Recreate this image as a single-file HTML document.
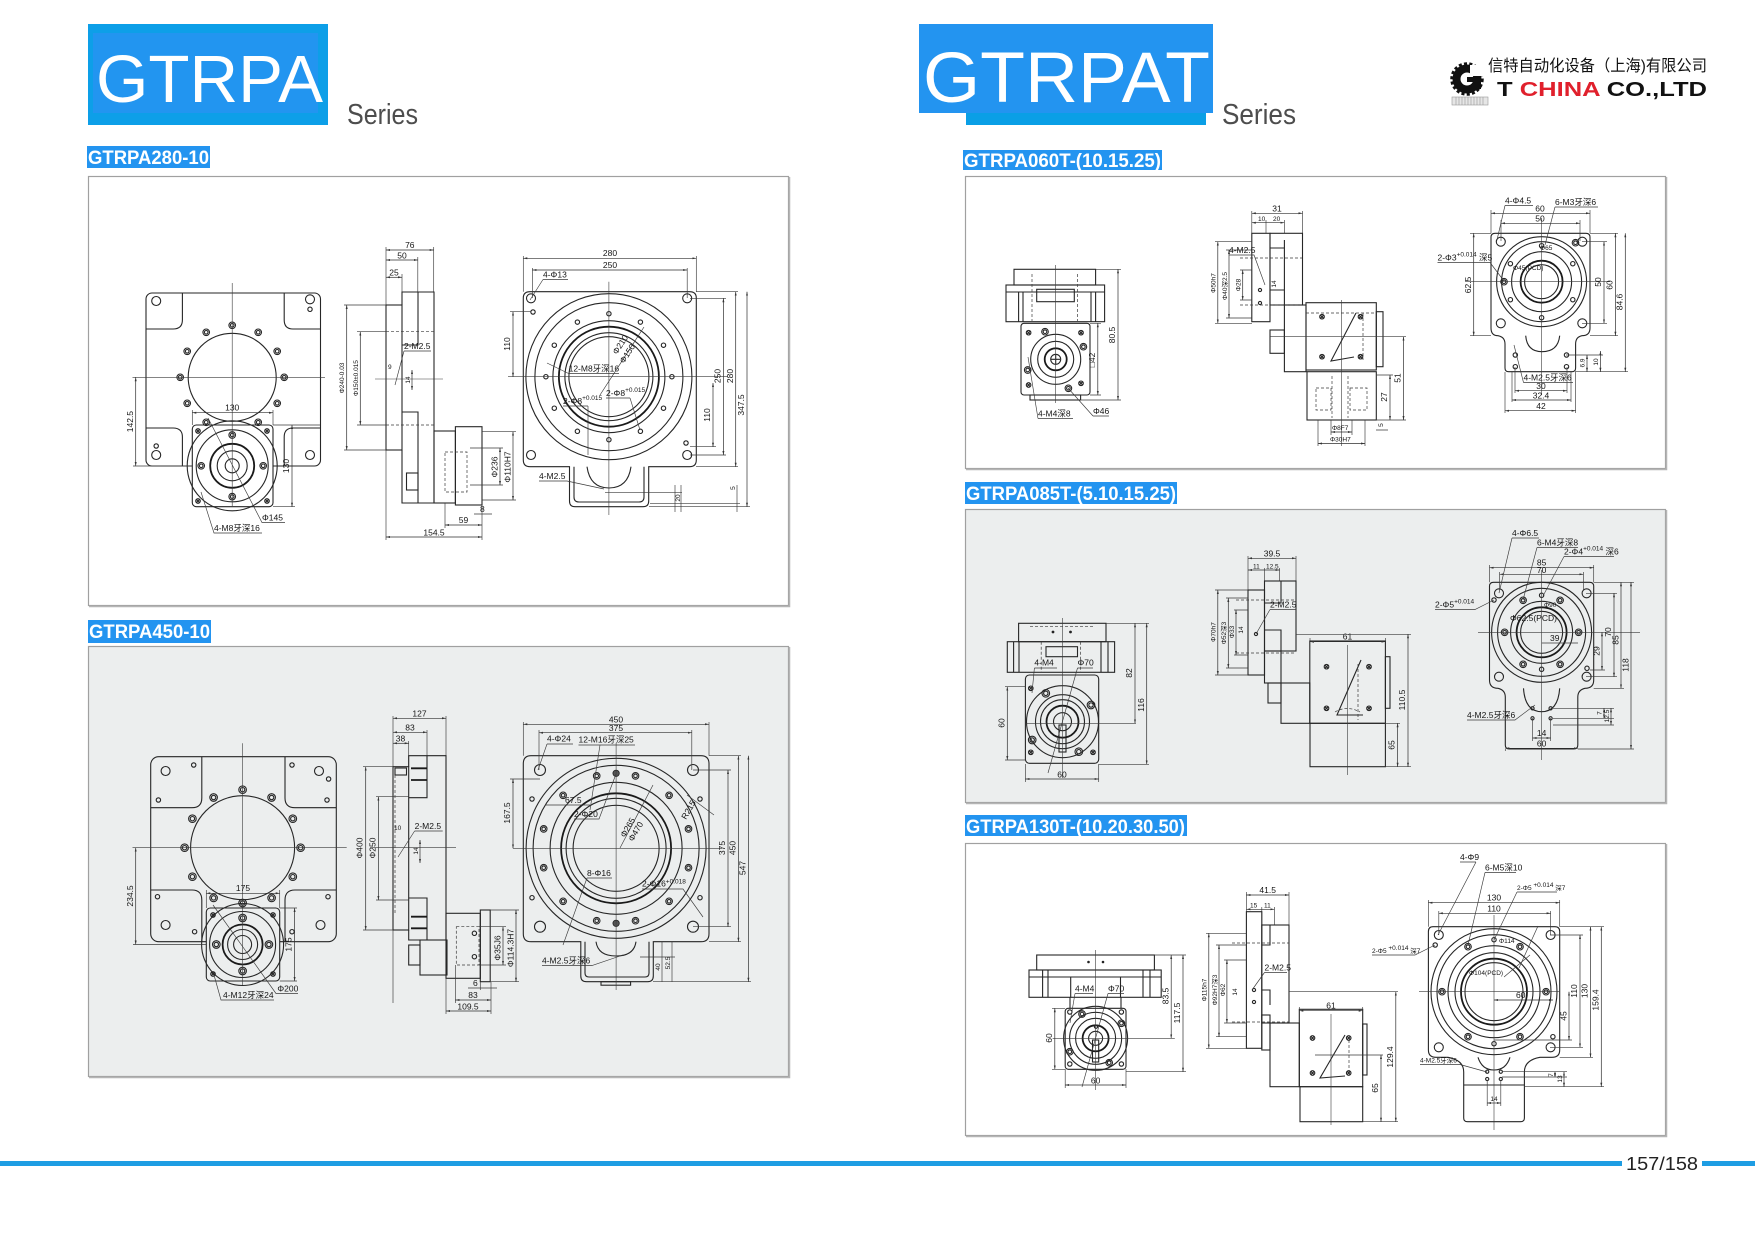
<!DOCTYPE html>
<html><head><meta charset="utf-8">
<style>
html,body{margin:0;padding:0;background:#fff;}
body{width:1755px;height:1240px;position:relative;overflow:hidden;}
svg{position:absolute;left:0;top:0;}
.k{fill:none;stroke:#262626;stroke-width:1.1}
.b{fill:none;stroke:#1a1a1a;stroke-width:1.8}
.c{fill:none;stroke:#3a3a3a;stroke-width:.6}
.d{fill:none;stroke:#3a3a3a;stroke-width:.7;stroke-dasharray:3 2}
.m{fill:none;stroke:#2e2e2e;stroke-width:.7;marker-start:url(#ar);marker-end:url(#ar)}
.e{fill:none;stroke:#3a3a3a;stroke-width:.65}
.t{font-family:"Liberation Sans","Noto Sans CJK SC",sans-serif;font-size:8.5px;fill:#151515}
.s{font-family:"Liberation Sans","Noto Sans CJK SC",sans-serif;font-size:6.5px;fill:#151515}
.lb{font-family:"Liberation Sans",sans-serif;font-weight:bold;font-size:19px;fill:#fff}
</style></head><body>
<svg width="1755" height="1240" viewBox="0 0 1755 1240">
<defs>
<marker id="ar" viewBox="0 0 10 10" refX="10" refY="5" markerWidth="4" markerHeight="4" orient="auto-start-reverse" markerUnits="userSpaceOnUse"><path d="M0,2.5L10,5L0,7.5z" fill="#333"/></marker>
<g id="ha" class="k"><circle r="3.3"/><circle r="1.8"/></g>
<g id="ha2" class="k"><circle r="3.8"/><circle r="2.2"/></g>
<g id="hb" class="k"><circle r="4.5"/></g>
<g id="hb2" class="k"><circle r="5.5"/></g>
<g id="hc" class="k"><circle r="2.2"/></g>
<g id="hs" class="k"><circle r="1.6"/></g>
<g id="hx" class="k"><circle r="2.3"/><path d="M-1.6,-1.6L1.6,1.6M-1.6,1.6L1.6,-1.6"/></g>
<g id="hd"><circle r="3.2" fill="#555" stroke="#222" stroke-width=".8"/></g>
</defs>

<!-- ===== HEADERS ===== -->
<rect x="88" y="24" width="240" height="101" fill="#0d9fe8"/>
<rect x="93" y="33" width="225" height="80" fill="#2295f0"/>
<text x="96" y="102" font-family="Liberation Sans,sans-serif" font-size="67" fill="#fff" textLength="227" lengthAdjust="spacingAndGlyphs">GTRPA</text>
<text x="347" y="124" font-family="Liberation Sans,sans-serif" font-size="29" fill="#4d4d4d" textLength="71" lengthAdjust="spacingAndGlyphs">Series</text>

<rect x="966" y="110" width="240" height="15" fill="#0a9fe6"/>
<rect x="919" y="24" width="294" height="89" fill="#2394f0"/>
<text x="923" y="102" font-family="Liberation Sans,sans-serif" font-size="71" fill="#fff" textLength="287" lengthAdjust="spacingAndGlyphs">GTRPAT</text>
<text x="1222" y="124" font-family="Liberation Sans,sans-serif" font-size="29" fill="#4d4d4d" textLength="74" lengthAdjust="spacingAndGlyphs">Series</text>

<!-- logo -->
<circle cx="1467" cy="79" r="15" fill="none" stroke="#111" stroke-width="3.5" stroke-dasharray="3 2.2"/>
<circle cx="1467" cy="79" r="10.5" fill="none" stroke="#111" stroke-width="8"/>
<rect x="1470" y="65" width="16" height="11" fill="#fff"/>
<rect x="1467" y="77" width="14" height="5" fill="#111"/>
<rect x="1476" y="77" width="5" height="12" fill="#111"/>
<rect x="1452" y="97" width="36" height="8" fill="#e6e6e6" stroke="#999" stroke-width=".6"/>
<path d="M1456,97V105M1459,97V105M1462,97V105M1465,97V105M1468,97V105M1471,97V105M1474,97V105M1477,97V105M1480,97V105M1483,97V105" stroke="#999" stroke-width=".6"/>
<text x="1488" y="71" font-family="Liberation Sans,'Noto Sans CJK SC',sans-serif" font-size="16" fill="#111" textLength="219" lengthAdjust="spacingAndGlyphs">信特自动化设备（上海)有限公司</text>
<text x="1497" y="96" font-family="Liberation Sans,sans-serif" font-weight="bold" font-size="20" fill="#111" textLength="210" lengthAdjust="spacingAndGlyphs">T <tspan fill="#e0202c">CHINA</tspan> CO.,LTD</text>

<!-- ===== PANELS ===== -->
<rect x="88.5" y="176.5" width="700" height="429" fill="#fff" stroke="#a0a0a0" stroke-width="1.2"/>
<path d="M789.5,177V606.5H89" fill="none" stroke="#b5b5b5" stroke-width="1.5"/>
<rect x="88.5" y="646.5" width="700" height="430" fill="#eceeee" stroke="#a0a0a0" stroke-width="1.2"/>
<path d="M789.5,647V1077.5H89" fill="none" stroke="#b5b5b5" stroke-width="1.5"/>
<rect x="965.5" y="176.5" width="700" height="292" fill="#fff" stroke="#a0a0a0" stroke-width="1.2"/>
<path d="M1666.5,177V469.5H966" fill="none" stroke="#b5b5b5" stroke-width="1.5"/>
<rect x="965.5" y="509.5" width="700" height="293" fill="#eceeee" stroke="#a0a0a0" stroke-width="1.2"/>
<path d="M1666.5,510V803.5H966" fill="none" stroke="#b5b5b5" stroke-width="1.5"/>
<rect x="965.5" y="843.5" width="700" height="292" fill="#fff" stroke="#a0a0a0" stroke-width="1.2"/>
<path d="M1666.5,844V1136.5H966" fill="none" stroke="#b5b5b5" stroke-width="1.5"/>

<!-- labels -->
<rect x="87" y="146" width="123" height="22" fill="#2394f0"/>
<text class="lb" x="88" y="164" textLength="121" lengthAdjust="spacingAndGlyphs">GTRPA280-10</text>
<rect x="88" y="620" width="123" height="23" fill="#2394f0"/>
<text class="lb" x="89" y="638" textLength="121" lengthAdjust="spacingAndGlyphs">GTRPA450-10</text>
<rect x="963" y="150" width="199" height="20" fill="#2394f0"/>
<text class="lb" x="964" y="167" textLength="197" lengthAdjust="spacingAndGlyphs">GTRPA060T-(10.15.25)</text>
<rect x="965" y="482" width="212" height="22" fill="#2394f0"/>
<text class="lb" x="966" y="500" textLength="210" lengthAdjust="spacingAndGlyphs">GTRPA085T-(5.10.15.25)</text>
<rect x="965" y="815" width="222" height="21" fill="#2394f0"/>
<text class="lb" x="966" y="833" textLength="219" lengthAdjust="spacingAndGlyphs">GTRPA130T-(10.20.30.50)</text>

<!-- footer -->
<rect x="0" y="1161" width="1622" height="5" fill="#1e9de3"/>
<rect x="1702" y="1161" width="53" height="5" fill="#1e9de3"/>
<text x="1626" y="1170" font-family="Liberation Sans,sans-serif" font-size="18" fill="#222" textLength="72" lengthAdjust="spacingAndGlyphs">157/158</text>

<!-- ================= PANEL 1 : GTRPA280-10 ================= -->
<g class="k">
<rect x="146" y="293" width="174.5" height="173" rx="6"/>
<path d="M182.4,293V320Q182.4,329 173,329H146M284.2,293V320Q284.2,329 293,329H320.5M146,428H173Q182.4,428 182.4,437V466M320.5,428H293Q284.2,428 284.2,437V466"/>
<circle cx="232.2" cy="377.3" r="44"/>
<rect x="192.3" y="425" width="80.7" height="81.7" rx="4" fill="#fff"/>
<circle cx="232.2" cy="465.8" r="45"/>
<circle cx="232.2" cy="465.8" r="36"/>
<circle cx="232.2" cy="465.8" r="15"/>
<circle cx="232.2" cy="465.8" r="7"/>
</g>
<circle class="b" cx="232.2" cy="465.8" r="22"/>
<use href="#ha" x="284.2" y="377.3"/><use href="#ha" x="277.2" y="351.3"/><use href="#ha" x="258.2" y="332.3"/><use href="#ha" x="232.2" y="325.3"/><use href="#ha" x="206.2" y="332.3"/><use href="#ha" x="187.2" y="351.3"/><use href="#ha" x="180.2" y="377.3"/><use href="#ha" x="187.2" y="403.3"/><use href="#ha" x="206.2" y="422.3"/><use href="#ha" x="258.2" y="422.3"/><use href="#ha" x="277.2" y="403.3"/>
<use href="#ha" x="232.2" y="435"/><use href="#ha" x="201.2" y="465.8"/><use href="#ha" x="263.2" y="465.8"/><use href="#ha" x="232.2" y="496.6"/>
<use href="#hx" x="198" y="431"/><use href="#hx" x="267" y="431"/><use href="#hx" x="198" y="501"/><use href="#hx" x="267" y="501"/>
<use href="#hb" x="156.2" y="301"/><use href="#hb" x="310" y="299.3"/><use href="#hc" x="310" y="309.3"/><use href="#hb" x="156.2" y="455"/><use href="#hc" x="156.2" y="446"/><use href="#hb" x="310" y="455"/>
<line class="c" x1="232.2" y1="283" x2="232.2" y2="506"/>
<line class="c" x1="132.5" y1="377.3" x2="325" y2="377.3"/>
<line class="m" x1="135.7" y1="377.3" x2="135.7" y2="466"/>
<line class="e" x1="133" y1="466" x2="192" y2="466"/>
<text class="t" transform="translate(133,421.6) rotate(-90)" text-anchor="middle">142.5</text>
<line class="m" x1="192.3" y1="412.7" x2="273" y2="412.7"/>
<path class="e" d="M192.3,410V425M273,410V425"/>
<text class="t" x="232.2" y="410.5" text-anchor="middle">130</text>
<line class="m" x1="292" y1="425" x2="292" y2="506.7"/>
<path class="e" d="M273,425H320M273,506.7H295"/>
<text class="t" transform="translate(289,466) rotate(-90)" text-anchor="middle">130</text>
<path class="e" d="M208,418L262,522.5H285"/>
<text class="t" x="262" y="520.5">Φ145</text>
<path class="e" d="M201,492L214,533H262"/>
<text class="t" x="214" y="531">4-M8牙深16</text>

<!-- middle view -->
<path class="e" d="M386,247V540M433.7,247V292M417.8,257V292M402,274V292"/>
<line class="m" x1="386" y1="250" x2="433.7" y2="250"/><text class="t" x="409.8" y="248" text-anchor="middle">76</text>
<line class="m" x1="386" y1="260" x2="417.8" y2="260"/><text class="t" x="402" y="258.3" text-anchor="middle">50</text>
<line class="m" x1="386" y1="277.3" x2="402" y2="277.3"/><text class="t" x="394" y="275.6" text-anchor="middle">25</text>
<g class="k">
<rect x="386" y="305" width="16" height="145"/>
<path d="M402,305V292H434V503H402V450"/>
<path d="M418,292V345H402M402,412H418V503"/>
<rect x="406.5" y="473" width="11.5" height="17"/>
<rect x="434" y="431" width="21.4" height="72"/>
<rect x="455.4" y="426.7" width="26.6" height="78.3"/>
</g>
<rect class="d" x="445" y="452" width="22" height="40"/>
<path class="d" d="M386,331.7H434M386,425H434"/>
<line class="c" x1="375" y1="379" x2="443" y2="379"/>
<path class="e" d="M344,305H386M344,450H386M357,331.7H386M357,425H386"/>
<line class="m" x1="346.7" y1="305" x2="346.7" y2="450"/>
<line class="m" x1="360.3" y1="331.7" x2="360.3" y2="425"/>
<text class="s" transform="translate(344,378) rotate(-90)" text-anchor="middle">Φ240-0.03</text>
<text class="s" transform="translate(357.8,378) rotate(-90)" text-anchor="middle">Φ150±0.015</text>
<path class="e" d="M404,351H431M404,351L395,385"/>
<text class="t" x="404" y="349">2-M2.5</text>
<line class="m" x1="412" y1="370" x2="412" y2="390"/>
<text class="s" transform="translate(410,380) rotate(-90)" text-anchor="middle">14</text>
<text class="s" x="388" y="369">9</text>
<path class="e" d="M482,431.7H516M482,500H516M470,448H503M470,485H503"/>
<line class="m" x1="513" y1="431.7" x2="513" y2="500"/>
<line class="m" x1="500" y1="448" x2="500" y2="485"/>
<text class="t" transform="translate(497.5,467) rotate(-90)" text-anchor="middle">Φ236</text>
<text class="t" transform="translate(510.5,467) rotate(-90)" text-anchor="middle">Φ110H7</text>
<path class="e" d="M445,503V528M482,505V540M474,514H492"/>
<text class="t" x="480" y="512">8</text>
<line class="m" x1="445" y1="525" x2="482" y2="525"/><text class="t" x="463.5" y="523" text-anchor="middle">59</text>
<line class="m" x1="386" y1="537" x2="482" y2="537"/><text class="t" x="434" y="535.5" text-anchor="middle">154.5</text>

<!-- right view -->
<g class="k">
<path d="M530,291.7H689.6Q696.3,291.7 696.3,298V460Q696.3,466.7 689.6,466.7H648.7V501Q648.7,506.7 643,506.7H575Q569.5,506.7 569.5,501V466.7H530Q523.3,466.7 523.3,460V298Q523.3,291.7 530,291.7Z"/>
<path d="M574,466.7V497Q574,502 579,502H639Q644,502 644,497V466.7"/>
<path d="M587,466.7Q590,488 609,488Q628,488 631,466.7"/>
<circle cx="608.9" cy="376.7" r="83"/>
<circle cx="608.9" cy="376.7" r="74"/>
<circle cx="608.9" cy="376.7" r="56"/>
<circle cx="608.9" cy="376.7" r="44"/>
<circle cx="608.9" cy="376.7" r="40"/>
</g>
<circle class="b" cx="608.9" cy="376.7" r="50"/>
<use href="#hc" x="671.9" y="376.7"/><use href="#hc" x="663.5" y="345.2"/><use href="#hc" x="640.4" y="322.1"/><use href="#hc" x="608.9" y="313.7"/><use href="#hc" x="577.4" y="322.1"/><use href="#hc" x="554.3" y="345.2"/><use href="#hc" x="545.9" y="376.7"/><use href="#hc" x="554.3" y="408.2"/><use href="#hc" x="577.4" y="431.3"/><use href="#hc" x="608.9" y="439.7"/><use href="#hc" x="640.4" y="431.3"/><use href="#hc" x="663.5" y="408.2"/>
<use href="#hb" x="531" y="298.3"/><use href="#hb" x="687.2" y="298.3"/><use href="#hb" x="531" y="455"/><use href="#hb" x="687.2" y="455"/><use href="#hc" x="533" y="312"/><use href="#hc" x="686" y="443"/>
<line class="c" x1="508" y1="376.7" x2="728" y2="376.7"/>
<line class="c" x1="608.9" y1="281.7" x2="608.9" y2="515"/>
<path class="e" d="M523.3,256V291.7M696.3,256V291.7M532.4,268V298M687.2,268V298"/>
<line class="m" x1="523.3" y1="258.3" x2="696.3" y2="258.3"/><text class="t" x="610" y="256" text-anchor="middle">280</text>
<line class="m" x1="532.4" y1="270" x2="687.2" y2="270"/><text class="t" x="610" y="268" text-anchor="middle">250</text>
<path class="e" d="M690,298.3H726M690,455H726M696,291.7H738M696,466.7H738M649,506.7H750M510,311.7H531M690,446.7H716"/>
<line class="m" x1="723.4" y1="298.3" x2="723.4" y2="455"/><text class="t" transform="translate(720.5,376) rotate(-90)" text-anchor="middle">250</text>
<line class="m" x1="735.7" y1="291.7" x2="735.7" y2="466.7"/><text class="t" transform="translate(732.8,376) rotate(-90)" text-anchor="middle">280</text>
<line class="m" x1="747" y1="291.7" x2="747" y2="506.7"/><text class="t" transform="translate(744,405) rotate(-90)" text-anchor="middle">347.5</text>
<line class="m" x1="513" y1="311.7" x2="513" y2="376.7"/><text class="t" transform="translate(510,344) rotate(-90)" text-anchor="middle">110</text>
<line class="m" x1="713" y1="383" x2="713" y2="446.7"/><text class="t" transform="translate(710,415) rotate(-90)" text-anchor="middle">110</text>
<path class="e" d="M605,492.7H682M650,503.3H740M675,485V512M681,485V512M737,485V512"/>
<text class="s" transform="translate(680,498) rotate(-90)" text-anchor="middle">20</text>
<text class="s" transform="translate(735,488) rotate(-90)" text-anchor="middle">5</text>
<path class="e" d="M543,279.5H568M543,279.5L530,300"/><text class="t" x="543" y="277.5">4-Φ13</text>
<path class="e" d="M568.6,373.5H619M568.6,373.5L547,363"/><text class="t" x="568.6" y="371.5">12-M8牙深16</text>
<path class="e" d="M644,327L600,395"/>
<text class="t" transform="translate(617,355) rotate(-57)">Φ210</text>
<text class="t" transform="translate(624,364) rotate(-57)">Φ150</text>
<path class="e" d="M563,406H588M588,406V455"/><text class="t" x="563" y="404">2-Φ8<tspan class="s" dy="-4">+0.015</tspan></text>
<path class="e" d="M606,398H630M630,398L640,430"/><text class="t" x="606" y="396">2-Φ8<tspan class="s" dy="-4">+0.015</tspan></text>
<path class="e" d="M539,481H567L604,489"/><text class="t" x="539" y="479">4-M2.5</text>

<!-- ================= PANEL 2 : GTRPA450-10 ================= -->
<g class="k">
<rect x="150.7" y="756.7" width="185.6" height="185" rx="8"/>
<path d="M201.8,756.7V798Q201.8,807.7 192,807.7H150.7M285,756.7V798Q285,807.7 295,807.7H336.3M150.7,890H192Q201.8,890 201.8,900V941.7M336.3,890H295Q285,890 285,900V941.7"/>
<circle cx="242.6" cy="847.7" r="52"/>
<rect x="206.3" y="908" width="73.4" height="73" rx="4" fill="#eceeee"/>
<circle cx="242.6" cy="944.5" r="41"/>
<circle cx="242.6" cy="944.5" r="33"/>
<circle cx="242.6" cy="944.5" r="15"/>
<circle cx="242.6" cy="944.5" r="9"/>
</g>
<circle class="b" cx="242.6" cy="944.5" r="20"/>
<use href="#ha2" x="300.6" y="847.7"/><use href="#ha2" x="292.8" y="818.7"/><use href="#ha2" x="271.6" y="797.5"/><use href="#ha2" x="242.6" y="789.7"/><use href="#ha2" x="213.6" y="797.5"/><use href="#ha2" x="192.4" y="818.7"/><use href="#ha2" x="184.6" y="847.7"/><use href="#ha2" x="192.4" y="876.7"/><use href="#ha2" x="213.6" y="897.9"/><use href="#ha2" x="242.6" y="903"/><use href="#ha2" x="271.6" y="897.9"/><use href="#ha2" x="292.8" y="876.7"/>
<use href="#ha2" x="242.6" y="918"/><use href="#ha2" x="216.3" y="944.5"/><use href="#ha2" x="268.9" y="944.5"/><use href="#ha2" x="242.6" y="971"/>
<use href="#hx" x="213" y="915"/><use href="#hx" x="273" y="915"/><use href="#hx" x="213" y="974"/><use href="#hx" x="273" y="974"/>
<use href="#hb" x="165.6" y="771"/><use href="#hc" x="193.7" y="765"/><use href="#hb" x="319" y="771"/><use href="#hc" x="292" y="765"/><use href="#hc" x="328.6" y="779"/><use href="#hc" x="158.4" y="800"/><use href="#hc" x="327" y="800"/><use href="#hc" x="157.5" y="896.7"/><use href="#hc" x="328" y="896.7"/><use href="#hb" x="165.6" y="925"/><use href="#hc" x="194.6" y="931.7"/><use href="#hc" x="292" y="931.7"/><use href="#hb" x="320.5" y="925"/>
<line class="c" x1="242.6" y1="743.3" x2="242.6" y2="985"/>
<line class="c" x1="132.5" y1="847.7" x2="346.7" y2="847.7"/>
<line class="m" x1="135.7" y1="847.7" x2="135.7" y2="944.5"/>
<line class="e" x1="133" y1="944.5" x2="206" y2="944.5"/>
<text class="t" transform="translate(133,896) rotate(-90)" text-anchor="middle">234.5</text>
<line class="m" x1="206.3" y1="893.3" x2="279.7" y2="893.3"/>
<path class="e" d="M206.3,890V908M279.7,890V908"/>
<text class="t" x="243" y="891" text-anchor="middle">175</text>
<line class="m" x1="294.6" y1="908" x2="294.6" y2="981"/>
<path class="e" d="M279.7,908H297M279.7,981H297"/>
<text class="t" transform="translate(291.5,944.5) rotate(-90)" text-anchor="middle">175</text>
<path class="e" d="M213,905L276,993.5H298"/><text class="t" x="277.4" y="991.5">Φ200</text>
<path class="e" d="M214,975L221,1000H274"/><text class="t" x="223" y="998">4-M12牙深24</text>

<!-- middle view -->
<path class="e" d="M393,716V1003M446,716V755.7M427,730V755.7M408.7,741V766.7"/>
<line class="m" x1="393" y1="718.3" x2="446" y2="718.3"/><text class="t" x="419.5" y="716.5" text-anchor="middle">127</text>
<line class="m" x1="393" y1="732.3" x2="427" y2="732.3"/><text class="t" x="410" y="730.5" text-anchor="middle">83</text>
<line class="m" x1="393" y1="743.3" x2="408.7" y2="743.3"/><text class="t" x="400.5" y="741.5" text-anchor="middle">38</text>
<g class="k">
<rect x="393" y="766.7" width="15.7" height="163.3"/>
<path d="M408.7,766.7V755.7H446V940H408.7V930"/>
<path d="M427,755.7V797.7H408.7M408.7,898H427V940"/>
<rect x="395" y="768" width="11.5" height="7"/>
<rect x="420" y="940" width="27" height="35"/>
<rect x="408.7" y="945" width="11.3" height="20"/>
<rect x="446" y="913.3" width="34.3" height="65"/>
<rect x="480.3" y="910" width="9.9" height="71.7"/>
</g>
<path class="b" d="M411,768.3H427M411,780H427M411,916.7H427M411,928.3H427"/>
<line class="d" x1="395" y1="775" x2="395" y2="915"/>
<rect class="d" x="456.3" y="926.7" width="22.7" height="38.3"/>
<use href="#hc" x="474.4" y="933.3"/><use href="#hc" x="474.4" y="956.7"/>
<path class="e" d="M363,766.7H393M363,930H393M376,796.7H408.7M376,900H408.7"/>
<line class="m" x1="365.7" y1="766.7" x2="365.7" y2="930"/>
<line class="m" x1="378.4" y1="796.7" x2="378.4" y2="900"/>
<text class="t" transform="translate(362.5,848) rotate(-90)" text-anchor="middle">Φ400</text>
<text class="t" transform="translate(375.5,848) rotate(-90)" text-anchor="middle">Φ250</text>
<line class="c" x1="370" y1="847.7" x2="456" y2="847.7"/>
<path class="e" d="M414.6,831H442.7M414.6,831L398,857"/><text class="t" x="414.6" y="829">2-M2.5</text>
<text class="s" x="394" y="830">10</text>
<line class="m" x1="420" y1="840" x2="420" y2="863"/>
<text class="s" transform="translate(418,851) rotate(-90)" text-anchor="middle">14</text>
<path class="e" d="M490,910H519M490,981.7H519M479,926.7H506M479,965H506"/>
<line class="m" x1="516" y1="910" x2="516" y2="981.7"/>
<line class="m" x1="503" y1="926.7" x2="503" y2="965"/>
<text class="t" transform="translate(500.5,948) rotate(-90)" text-anchor="middle">Φ35J6</text>
<text class="t" transform="translate(513.5,948) rotate(-90)" text-anchor="middle">Φ114.3H7</text>
<path class="e" d="M455.4,965V1003M446,978V1014M491,982V1014M480.3,982V990M468,988H497"/>
<text class="t" x="473" y="986">6</text>
<line class="m" x1="455.4" y1="1000" x2="491" y2="1000"/><text class="t" x="473" y="998" text-anchor="middle">83</text>
<line class="m" x1="446" y1="1011" x2="491" y2="1011"/><text class="t" x="468" y="1009.5" text-anchor="middle">109.5</text>

<!-- right view -->
<g class="k">
<path d="M531,755.7H701Q709,755.7 709,763.7V933.7Q709,941.7 701,941.7H653.3V976Q653.3,981.7 647.6,981.7H586.5Q580.8,981.7 580.8,976V941.7H531Q523.3,941.7 523.3,933.7V763.7Q523.3,755.7 531,755.7Z"/>
<path d="M585,941.7V973Q585,977 589,977H645Q649,977 649,973V941.7"/>
<path d="M596,941.7Q598,956 616,956Q634,956 636,941.7"/>
<rect x="601" y="981.7" width="29.6" height="3.5"/>
<circle cx="616.1" cy="848.3" r="90"/>
<circle cx="616.1" cy="848.3" r="83"/>
<circle cx="616.1" cy="848.3" r="66"/>
<circle cx="616.1" cy="848.3" r="50"/>
<circle cx="616.1" cy="848.3" r="43"/>
</g>
<circle class="b" cx="616.1" cy="848.3" r="55"/>
<use href="#ha" x="688.5" y="828.9"/><use href="#ha" x="669.1" y="795.3"/><use href="#ha" x="635.5" y="775.9"/><use href="#ha" x="596.7" y="775.9"/><use href="#ha" x="563.1" y="795.3"/><use href="#ha" x="543.7" y="828.9"/><use href="#ha" x="543.7" y="867.7"/><use href="#ha" x="563.1" y="901.3"/><use href="#ha" x="596.7" y="920.7"/><use href="#ha" x="635.5" y="920.7"/><use href="#ha" x="669.1" y="901.3"/><use href="#ha" x="688.5" y="867.7"/>
<use href="#hd" x="616.1" y="773.3"/><use href="#hd" x="616.1" y="923.3"/>
<use href="#hc" x="532" y="799"/><use href="#hc" x="700" y="799"/><use href="#hc" x="532" y="897.7"/><use href="#hc" x="700" y="897.7"/>
<use href="#hb2" x="540" y="770"/><use href="#hb2" x="693" y="770"/><use href="#hb2" x="540" y="926.7"/><use href="#hb2" x="693" y="926.7"/>
<line class="c" x1="513" y1="848.3" x2="722" y2="848.3"/>
<line class="c" x1="616.1" y1="743" x2="616.1" y2="990"/>
<path class="e" d="M523.3,722V755.7M709,722V755.7M539,730V770M691.8,730V770"/>
<line class="m" x1="523.3" y1="724.3" x2="709" y2="724.3"/><text class="t" x="616" y="722.3" text-anchor="middle">450</text>
<line class="m" x1="539" y1="732.7" x2="691.8" y2="732.7"/><text class="t" x="616" y="731" text-anchor="middle">375</text>
<path class="e" d="M693,770H731M693,926.7H731M709,755.7H741M709,941.7H741M653,981.7H751M510,779H540"/>
<line class="m" x1="728" y1="770" x2="728" y2="926.7"/><text class="t" transform="translate(725,848) rotate(-90)" text-anchor="middle">375</text>
<line class="m" x1="738.4" y1="755.7" x2="738.4" y2="941.7"/><text class="t" transform="translate(735.5,848) rotate(-90)" text-anchor="middle">450</text>
<line class="m" x1="748.4" y1="755.7" x2="748.4" y2="981.7"/><text class="t" transform="translate(745.5,868) rotate(-90)" text-anchor="middle">547</text>
<line class="m" x1="513" y1="779" x2="513" y2="848.3"/><text class="t" transform="translate(510,813) rotate(-90)" text-anchor="middle">167.5</text>
<path class="e" d="M547,744H573M547,744L538,770"/><text class="t" x="547" y="741.7">4-Φ24</text>
<path class="e" d="M578.5,745H635M600,745L590,810"/><text class="t" x="578.5" y="742.7">12-M16牙深25</text>
<path class="e" d="M545,805H590"/><text class="t" x="565" y="803">67.5</text>
<path class="e" d="M574,819H599L616,774"/><text class="t" x="574" y="817">2-Φ20</text>
<path class="e" d="M653,785L620,848"/>
<text class="t" transform="translate(625,838) rotate(-60)">Φ265</text>
<text class="t" transform="translate(633,842) rotate(-60)">Φ470</text>
<path class="e" d="M687,795L714,815"/>
<text class="t" transform="translate(686,820) rotate(-60)">R215</text>
<path class="e" d="M587,878H612M587,878L563,945"/><text class="t" x="587" y="876">8-Φ16</text>
<path class="e" d="M642,889H683L703,917"/><text class="t" x="642" y="886.7">2-Φ16<tspan class="s" dy="-3">+0.018</tspan></text>
<path class="e" d="M542,965.5H592L623,955"/><text class="t" x="542" y="963.3">4-M2.5牙深6</text>
<path class="e" d="M640,957H675M662,941.7V981.7M672,941.7V981.7"/>
<text class="s" transform="translate(660,967) rotate(-90)" text-anchor="middle">40</text>
<text class="s" transform="translate(670,963) rotate(-90)" text-anchor="middle">52.5</text>

<!-- ================= PANEL 3 : GTRPA060T ================= -->
<g class="k">
<rect x="1014" y="269.3" width="81.6" height="15.7"/>
<rect x="1006" y="285" width="98.6" height="36.7"/>
<path d="M1006,292H1104.6M1018.6,292V321.7M1023,292V321.7M1091,292V321.7M1095.6,292V321.7"/>
<rect x="1036.7" y="289.3" width="37.6" height="12.4"/>
<rect x="1021" y="323.3" width="69" height="71.7" rx="3"/>
<rect x="1030" y="395" width="50.6" height="5"/>
<circle cx="1055.7" cy="359.3" r="25"/>
<circle cx="1055.7" cy="359.3" r="18"/>
<circle cx="1055.7" cy="359.3" r="5"/>
<path d="M1051,359.3H1060M1055.7,355V364"/>
</g>
<circle class="b" cx="1055.7" cy="359.3" r="11"/>
<path class="d" d="M1032,274V321M1077.5,274V321"/>
<use href="#hx" x="1028.6" y="332.7"/><use href="#hx" x="1081" y="332.7"/><use href="#hx" x="1028.6" y="385"/><use href="#hx" x="1081" y="383.3"/>
<use href="#ha" x="1045" y="331.7"/><use href="#ha" x="1083.4" y="346.7"/><use href="#ha" x="1027.7" y="370"/><use href="#ha" x="1068.4" y="388.3"/>
<line class="c" x1="1055.7" y1="265" x2="1055.7" y2="403"/>
<path class="e" d="M1096,269.3H1121M1080,400H1121M1090,323.3H1101M1090,395H1101"/>
<line class="m" x1="1118" y1="269.3" x2="1118" y2="400"/><text class="t" transform="translate(1115,335) rotate(-90)" text-anchor="middle">80.5</text>
<line class="m" x1="1097.8" y1="323.3" x2="1097.8" y2="395"/><text class="t" transform="translate(1095,360) rotate(-90)" text-anchor="middle">□42</text>
<path class="e" d="M1038,418.5H1073M1038,418.5L1028,357"/><text class="t" x="1038" y="416.5">4-M4深8</text>
<path class="e" d="M1093,416H1109M1093,416L1068,388"/><text class="t" x="1093" y="414">Φ46</text>

<!-- middle -->
<path class="e" d="M1251.8,211V233.3M1302.5,211V233.3M1284.4,220V233.3M1266,220V233.3"/>
<line class="m" x1="1251.8" y1="213.3" x2="1302.5" y2="213.3"/><text class="t" x="1277" y="211.3" text-anchor="middle">31</text>
<line class="m" x1="1251.8" y1="222.7" x2="1284.4" y2="222.7"/><text class="s" x="1258" y="221">10</text><text class="s" x="1273" y="221">20</text>
<g class="k">
<rect x="1251.8" y="233.3" width="18.2" height="88.4"/>
<rect x="1270" y="233.3" width="32.5" height="71.7"/>
<path d="M1284.4,240V305M1270,248H1284.4M1270,290H1284.4"/>
<rect x="1284.4" y="305" width="21.6" height="66.7"/>
<rect x="1270" y="330" width="14.4" height="23.3"/>
<rect x="1306" y="302.7" width="70.3" height="67.3"/>
<rect x="1376.3" y="311.7" width="6.7" height="55"/>
<rect x="1307" y="371.7" width="69.3" height="48.3"/>
<path d="M1356,313L1331,361L1354,357"/>
</g>
<path class="d" d="M1240,258H1302M1240,305H1302M1306,313H1376M1363,313V360M1332,376V418M1348,376V418"/>
<rect class="d" x="1316" y="388" width="15" height="22"/><rect class="d" x="1350" y="388" width="17" height="22"/>
<use href="#hx" x="1322" y="316.7"/><use href="#hx" x="1360.5" y="316.7"/><use href="#hx" x="1322" y="356.7"/><use href="#hx" x="1360.5" y="356.7"/>
<use href="#hs" x="1260" y="290"/><use href="#hs" x="1260" y="303"/>
<path class="e" d="M1215,241.7H1252M1215,323.3H1252M1226,250H1252M1226,318H1252M1240,270H1252M1240,300H1252"/>
<line class="m" x1="1217.8" y1="241.7" x2="1217.8" y2="323.3"/><text class="s" transform="translate(1215.5,283) rotate(-90)" text-anchor="middle">Φ50h7</text>
<line class="m" x1="1229" y1="250" x2="1229" y2="318"/><text class="s" transform="translate(1227,286) rotate(-90)" text-anchor="middle">Φ40深2.5</text>
<line class="m" x1="1242.7" y1="270" x2="1242.7" y2="300"/><text class="s" transform="translate(1240.5,285) rotate(-90)" text-anchor="middle">Φ28</text>
<path class="e" d="M1229,255H1254L1265,285"/><text class="t" x="1229" y="253">4-M2.5</text>
<text class="s" transform="translate(1276,284) rotate(-90)" text-anchor="middle">14</text>
<line class="c" x1="1270" y1="336.7" x2="1406" y2="336.7"/>
<line class="c" x1="1341.5" y1="300" x2="1341.5" y2="446"/>
<path class="e" d="M1376,420H1406M1376,375H1393M1376,430H1388"/>
<line class="m" x1="1403.5" y1="336.7" x2="1403.5" y2="420"/><text class="t" transform="translate(1400.5,378) rotate(-90)" text-anchor="middle">51</text>
<line class="m" x1="1390" y1="375" x2="1390" y2="420"/><text class="t" transform="translate(1387,397) rotate(-90)" text-anchor="middle">27</text>
<text class="s" transform="translate(1383,425) rotate(-90)" text-anchor="middle">5</text>
<path class="e" d="M1331,420V435M1352,420V435M1318,420V446M1365,420V446"/>
<line class="m" x1="1331" y1="432" x2="1352" y2="432"/><text class="s" x="1332" y="430">Φ8F7</text>
<line class="m" x1="1318" y1="443.5" x2="1365" y2="443.5"/><text class="s" x="1330" y="441.5">Φ30H7</text>

<!-- right -->
<g class="k">
<path d="M1495,233.3H1586Q1590,233.3 1590,237.3V328Q1590,335.7 1582,335.7Q1575.6,337 1575.6,344V368Q1575.6,371.7 1572,371.7H1508.6Q1505,371.7 1505,368V344Q1505,337 1498,335.7Q1491,335.7 1491,328V237.3Q1491,233.3 1495,233.3Z"/>
<path d="M1525.7,335.7Q1527,351.7 1542,351.7Q1558,351.7 1559.7,335.7"/>
<circle cx="1541.6" cy="281.7" r="45"/>
<circle cx="1541.6" cy="281.7" r="40"/>
<circle cx="1541.6" cy="281.7" r="30"/>
<circle cx="1541.6" cy="281.7" r="17"/>
</g>
<circle class="b" cx="1541.6" cy="281.7" r="21"/>
<use href="#hb" x="1500.8" y="241.7"/><use href="#hb" x="1582.3" y="241.7"/><use href="#hb" x="1500.8" y="323.3"/><use href="#hb" x="1582.3" y="323.3"/>
<use href="#hc" x="1541.6" y="245.7"/><use href="#hc" x="1510.4" y="263.7"/><use href="#hc" x="1572.8" y="263.7"/><use href="#hc" x="1510.4" y="299.7"/><use href="#hc" x="1572.8" y="299.7"/><use href="#hc" x="1541.6" y="317.7"/>
<use href="#ha" x="1504" y="281.7"/><use href="#ha" x="1575.5" y="242.7"/>
<use href="#hc" x="1515.3" y="355"/><use href="#hc" x="1566.5" y="355"/><use href="#hc" x="1515.3" y="366.7"/><use href="#hc" x="1566.5" y="366.7"/>
<line class="c" x1="1465" y1="281.7" x2="1610" y2="281.7"/>
<line class="c" x1="1541.6" y1="218" x2="1541.6" y2="395"/>
<path class="e" d="M1491,210V233.3M1590,210V233.3M1501,220V241M1580,220V241"/>
<line class="m" x1="1491" y1="213.3" x2="1590" y2="213.3"/><text class="t" x="1540" y="211.5" text-anchor="middle">60</text>
<line class="m" x1="1501" y1="223.3" x2="1580" y2="223.3"/><text class="t" x="1540" y="221.5" text-anchor="middle">50</text>
<path class="e" d="M1582,241.7H1607M1582,323.3H1607M1590,233.3H1618M1590,335.7H1618M1575,371.7H1628M1470,233.3H1491M1470,335.7H1491M1566,355H1603"/>
<line class="m" x1="1604" y1="241.7" x2="1604" y2="323.3"/><text class="t" transform="translate(1601,282) rotate(-90)" text-anchor="middle">50</text>
<line class="m" x1="1615.4" y1="233.3" x2="1615.4" y2="335.7"/><text class="t" transform="translate(1612.5,285) rotate(-90)" text-anchor="middle">60</text>
<line class="m" x1="1625.3" y1="233.3" x2="1625.3" y2="371.7"/><text class="t" transform="translate(1622.5,302) rotate(-90)" text-anchor="middle">84.6</text>
<line class="m" x1="1473.7" y1="233.3" x2="1473.7" y2="335.7"/><text class="t" transform="translate(1471,285) rotate(-90)" text-anchor="middle">62.5</text>
<line class="m" x1="1587" y1="355" x2="1587" y2="371.7"/><text class="s" transform="translate(1584.5,363) rotate(-90)" text-anchor="middle">6.9</text>
<line class="m" x1="1600.4" y1="351" x2="1600.4" y2="371.7"/><text class="s" transform="translate(1598,362) rotate(-90)" text-anchor="middle">10</text>
<path class="e" d="M1505,372V413M1575.6,372V413M1515,367V393M1567,367V393M1512,372V402M1571,372V402"/>
<line class="m" x1="1515" y1="390.7" x2="1567" y2="390.7"/><text class="t" x="1541" y="389" text-anchor="middle">30</text>
<line class="m" x1="1512" y1="400" x2="1571" y2="400"/><text class="t" x="1541" y="398.3" text-anchor="middle">32.4</text>
<line class="m" x1="1505" y1="410.7" x2="1575.6" y2="410.7"/><text class="t" x="1541" y="409" text-anchor="middle">42</text>
<path class="e" d="M1505,205.5H1533M1505,205.5L1497,240"/><text class="t" x="1505" y="203.3">4-Φ4.5</text>
<path class="e" d="M1555,207H1598M1555,207L1545,245"/><text class="t" x="1555" y="205">6-M3牙深6</text>
<path class="e" d="M1437.5,262.5H1490L1504,281"/><text class="t" x="1437.5" y="260.7">2-Φ3<tspan class="s" dy="-4">+0.014</tspan><tspan dy="4"> 深5</tspan></text>
<text class="s" x="1513" y="270">Φ45(PCD)</text>
<text class="s" x="1540" y="250">Φ65</text>
<path class="e" d="M1523.5,382.5H1573M1523.5,382.5L1514,345"/><text class="t" x="1523.5" y="380.5">4-M2.5牙深6</text>

<!-- ================= PANEL 4 : GTRPA085T ================= -->
<g class="k">
<rect x="1018.6" y="623.3" width="87.4" height="18.4"/>
<rect x="1007.3" y="641.7" width="107.3" height="30.6"/>
<rect x="1046" y="646.7" width="31.5" height="10"/>
<path d="M1013.6,641.7V672.3M1019,641.7V672.3M1101,641.7V672.3M1108,641.7V672.3"/>
<rect x="1025.4" y="675" width="73.3" height="88.3" rx="4" fill="#eceeee"/>
<circle cx="1062.5" cy="721.7" r="36"/>
<circle cx="1062.5" cy="721.7" r="27"/>
<circle cx="1062.5" cy="721.7" r="22"/>
<circle cx="1062.5" cy="721.7" r="9"/>
<rect x="1059" y="725" width="7" height="27"/>
</g>
<circle class="b" cx="1062.5" cy="721.7" r="16"/>
<path class="d" d="M1030,626.7H1093.3M1041.2,641.7V672.3M1080.6,641.7V672.3"/>
<circle cx="1053" cy="632" r="1.4" fill="#222"/><circle cx="1070.5" cy="632" r="1.4" fill="#222"/>
<use href="#ha2" x="1045.8" y="693.3"/><use href="#ha2" x="1091" y="705"/><use href="#ha2" x="1032.2" y="740"/><use href="#ha2" x="1078.8" y="751.7"/>
<use href="#hx" x="1030.8" y="688.3"/><use href="#hx" x="1030.8" y="752.3"/><use href="#hx" x="1093" y="752.3"/>
<line class="c" x1="1062.5" y1="618" x2="1062.5" y2="778"/>
<line class="c" x1="1025.4" y1="723.3" x2="1136" y2="723.3"/>
<path class="e" d="M1106,623.3H1149M1098.7,764.3H1149M1005,686.7H1025.4M1005,760H1025.4M1025.4,764V782M1098.7,764V782"/>
<line class="m" x1="1135" y1="623.3" x2="1135" y2="723.3"/><text class="t" transform="translate(1132,673) rotate(-90)" text-anchor="middle">82</text>
<line class="m" x1="1146.7" y1="623.3" x2="1146.7" y2="764.3"/><text class="t" transform="translate(1144,705) rotate(-90)" text-anchor="middle">116</text>
<line class="m" x1="1007.3" y1="686.7" x2="1007.3" y2="760"/><text class="t" transform="translate(1004.5,723) rotate(-90)" text-anchor="middle">60</text>
<line class="m" x1="1025.4" y1="779" x2="1098.7" y2="779"/><text class="t" x="1062" y="777.5" text-anchor="middle">60</text>
<path class="e" d="M1034.4,668H1057M1034.4,668L1032,693"/><text class="t" x="1034.4" y="665.7">4-M4</text>
<path class="e" d="M1077.5,668H1093M1077.5,668L1048,773"/><text class="t" x="1077.5" y="665.7">Φ70</text>

<!-- middle -->
<path class="e" d="M1248,556V590M1296,556V581M1264.5,568V581M1279.6,568V581"/>
<line class="m" x1="1248" y1="558.3" x2="1296" y2="558.3"/><text class="t" x="1272" y="556.5" text-anchor="middle">39.5</text>
<line class="m" x1="1248" y1="570" x2="1279.6" y2="570"/><text class="s" x="1253" y="568.5">11</text><text class="s" x="1266" y="568.5">12.5</text>
<g class="k">
<rect x="1248" y="590" width="16.5" height="85"/>
<rect x="1264.5" y="581" width="31.5" height="70"/>
<path d="M1281,581V603H1264.5M1264.5,630H1281V651"/>
<rect x="1264.5" y="651" width="16.5" height="32"/>
<rect x="1281" y="683" width="28.8" height="40.3"/>
<rect x="1268" y="683" width="13" height="20"/>
<rect x="1309.8" y="641" width="75.6" height="82.3"/>
<rect x="1385.4" y="656.7" width="4.6" height="51.6"/>
<rect x="1310" y="723.3" width="75.4" height="43.4"/>
<path d="M1361,660L1337,715L1363,715"/>
</g>
<path class="d" d="M1236,600H1296M1236,653H1296M1358,664V720M1335,712Q1347,705 1360,712"/>
<use href="#hx" x="1326.5" y="666.7"/><use href="#hx" x="1369" y="666.7"/><use href="#hx" x="1326.5" y="708.3"/><use href="#hx" x="1369" y="708.3"/>
<use href="#hs" x="1256" y="634"/>
<path class="e" d="M1215,590H1248M1215,675H1248M1226,598H1248M1226,668H1248M1234,610H1248M1234,655H1248"/>
<line class="m" x1="1217.8" y1="590" x2="1217.8" y2="675"/><text class="s" transform="translate(1215.5,632) rotate(-90)" text-anchor="middle">Φ70h7</text>
<line class="m" x1="1228.3" y1="598" x2="1228.3" y2="668"/><text class="s" transform="translate(1226,633) rotate(-90)" text-anchor="middle">Φ52深3</text>
<line class="m" x1="1236" y1="610" x2="1236" y2="655"/><text class="s" transform="translate(1234,632) rotate(-90)" text-anchor="middle">Φ33</text>
<text class="s" transform="translate(1243,630) rotate(-90)" text-anchor="middle">14</text>
<path class="e" d="M1270,609.5H1296M1270,609.5L1256,634"/><text class="t" x="1270" y="607.5">2-M2.5</text>
<path class="e" d="M1310,638V641M1385.4,638V641"/>
<line class="m" x1="1310" y1="641.7" x2="1385.4" y2="641.7"/><text class="t" x="1347.5" y="639.5" text-anchor="middle">61</text>
<line class="c" x1="1296" y1="634.3" x2="1411" y2="634.3"/>
<line class="c" x1="1347.5" y1="645" x2="1347.5" y2="775"/>
<path class="e" d="M1385,766.7H1411M1385,723.3H1400"/>
<line class="m" x1="1408" y1="634.3" x2="1408" y2="766.7"/><text class="t" transform="translate(1405,700) rotate(-90)" text-anchor="middle">110.5</text>
<line class="m" x1="1397.6" y1="723.3" x2="1397.6" y2="766.7"/><text class="t" transform="translate(1394.5,745) rotate(-90)" text-anchor="middle">65</text>

<!-- right -->
<g class="k">
<path d="M1493.5,582.3H1589.7Q1593.7,582.3 1593.7,586.3V680Q1593.7,688.3 1585,688.3Q1577.8,690 1577.8,697V745Q1577.8,749 1573.8,749H1509.3Q1505.3,749 1505.3,745V697Q1505.3,690 1498,688.3Q1489.5,688.3 1489.5,680V586.3Q1489.5,582.3 1493.5,582.3Z"/>
<path d="M1523.5,688.3Q1525,711.7 1541.6,711.7Q1558,711.7 1559.7,688.3"/>
<circle cx="1541.6" cy="632.3" r="50"/>
<circle cx="1541.6" cy="632.3" r="44"/>
<circle cx="1541.6" cy="632.3" r="31"/>
<circle cx="1541.6" cy="632.3" r="21"/>
</g>
<circle class="b" cx="1541.6" cy="632.3" r="25"/>
<use href="#hb" x="1499" y="593.3"/><use href="#hb" x="1586.6" y="593.3"/><use href="#hb" x="1499" y="676.7"/><use href="#hb" x="1586.6" y="676.7"/>
<use href="#ha" x="1578.6" y="632.3"/><use href="#ha" x="1560.1" y="600.3"/><use href="#ha" x="1523.1" y="600.3"/><use href="#ha" x="1504.6" y="632.3"/><use href="#ha" x="1523.1" y="664.3"/><use href="#ha" x="1560.1" y="664.3"/>
<use href="#hc" x="1541.6" y="595.3"/><use href="#hc" x="1541.6" y="669.3"/>
<use href="#hc" x="1494" y="600"/><use href="#hc" x="1587" y="668.3"/>
<use href="#hs" x="1532.5" y="708.3"/><use href="#hs" x="1550.6" y="708.3"/><use href="#hs" x="1532.5" y="718.3"/><use href="#hs" x="1550.6" y="718.3"/>
<line class="c" x1="1478" y1="632.3" x2="1640" y2="632.3"/>
<line class="c" x1="1541.6" y1="570" x2="1541.6" y2="760"/>
<path class="e" d="M1489.5,565V582.3M1593.7,565V582.3M1499.6,572V590M1583.4,572V590"/>
<line class="m" x1="1489.5" y1="567.7" x2="1593.7" y2="567.7"/><text class="t" x="1541.6" y="565.5" text-anchor="middle">85</text>
<line class="m" x1="1499.6" y1="574.3" x2="1583.4" y2="574.3"/><text class="t" x="1541.6" y="573" text-anchor="middle">70</text>
<path class="e" d="M1586,593.3H1617M1586,676.7H1617M1593.7,582.3H1634M1593.7,688.3H1624M1577.8,749H1634M1590,670H1605M1553,708.3H1614M1553,718.3H1614M1553,725H1614"/>
<line class="m" x1="1614" y1="593.3" x2="1614" y2="676.7"/><text class="t" transform="translate(1611,632) rotate(-90)" text-anchor="middle">70</text>
<line class="m" x1="1621" y1="582.3" x2="1621" y2="688.3"/><text class="t" transform="translate(1618.3,640) rotate(-90)" text-anchor="middle">85</text>
<line class="m" x1="1631" y1="582.3" x2="1631" y2="749"/><text class="t" transform="translate(1628.5,665) rotate(-90)" text-anchor="middle">118</text>
<line class="m" x1="1602" y1="632.3" x2="1602" y2="670"/><text class="t" transform="translate(1599.5,651) rotate(-90)" text-anchor="middle">29</text>
<line class="m" x1="1604" y1="708.3" x2="1604" y2="718.3"/><text class="s" transform="translate(1601.5,713) rotate(-90)" text-anchor="middle">7</text>
<line class="m" x1="1611" y1="708.3" x2="1611" y2="725"/><text class="s" transform="translate(1609,716) rotate(-90)" text-anchor="middle">12.5</text>
<path class="e" d="M1532.5,718V741M1550.6,718V741M1505.3,749V751"/>
<line class="m" x1="1532.5" y1="738" x2="1550.6" y2="738"/><text class="t" x="1541.6" y="736" text-anchor="middle">14</text>
<line class="m" x1="1505.3" y1="748.3" x2="1577.8" y2="748.3"/><text class="t" x="1541.6" y="746.5" text-anchor="middle">60</text>
<path class="e" d="M1512,538H1539M1512,538L1499,593"/><text class="t" x="1512" y="536">4-Φ6.5</text>
<path class="e" d="M1537,547.5H1578M1537,547.5L1523,600"/><text class="t" x="1537" y="545.7">6-M4牙深8</text>
<path class="e" d="M1564,556.5H1614M1564,556.5L1543,596"/><text class="t" x="1564" y="554.3">2-Φ4<tspan class="s" dy="-4">+0.014</tspan><tspan dy="4"> 深6</tspan></text>
<path class="e" d="M1435,609.5H1475L1494,600"/><text class="t" x="1435" y="607.7">2-Φ5<tspan class="s" dy="-4">+0.014</tspan></text>
<text class="s" x="1544" y="607">Φ90</text>
<text class="t" x="1510" y="621">Φ62.5(PCD)</text>
<path class="e" d="M1541.6,643H1578"/><text class="t" x="1550" y="641">39</text>
<path class="e" d="M1467,720H1515L1535,705"/><text class="t" x="1467" y="718">4-M2.5牙深6</text>

<!-- ================= PANEL 5 : GTRPA130T ================= -->
<g class="k">
<rect x="1036.7" y="955" width="117.7" height="15"/>
<rect x="1029" y="970" width="132.2" height="27.3"/>
<path d="M1029,977H1161.2M1042.6,970V997.3M1048,970V997.3M1143,970V997.3M1150,970V997.3M1070.7,977V997.3M1120.5,977V997.3M1070,997.3V1008.3M1121,997.3V1008.3"/>
<rect x="1065.2" y="1008.3" width="60.8" height="61" rx="3"/>
<circle cx="1095.6" cy="1038.3" r="32"/>
<circle cx="1095.6" cy="1038.3" r="26"/>
<circle cx="1095.6" cy="1038.3" r="20"/>
<circle cx="1095.6" cy="1038.3" r="7"/>
<rect x="1092.5" y="1040" width="6.2" height="22"/>
</g>
<circle class="b" cx="1095.6" cy="1038.3" r="13"/>
<circle cx="1088.5" cy="962" r="1.3" fill="#222"/><circle cx="1103" cy="962" r="1.3" fill="#222"/>
<use href="#hc" x="1069.8" y="1012"/><use href="#hc" x="1121.4" y="1012"/><use href="#hc" x="1069.8" y="1064"/><use href="#hc" x="1121.4" y="1064"/>
<use href="#ha" x="1082" y="1014"/><use href="#ha" x="1121.4" y="1023.3"/><use href="#ha" x="1069.8" y="1051.7"/><use href="#ha" x="1109.2" y="1062.7"/>
<use href="#hs" x="1096" y="1026.7"/>
<line class="c" x1="1095.6" y1="950" x2="1095.6" y2="1090"/>
<line class="c" x1="1052.6" y1="1038.3" x2="1174.8" y2="1038.3"/>
<path class="e" d="M1154,955H1186M1126,1071.7H1186M1052,1008.3H1065M1052,1069.3H1065M1065.2,1069V1088M1126,1069V1088"/>
<line class="m" x1="1171.2" y1="955" x2="1171.2" y2="1038.3"/><text class="t" transform="translate(1168.3,996) rotate(-90)" text-anchor="middle">83.5</text>
<line class="m" x1="1183" y1="955" x2="1183" y2="1071.7"/><text class="t" transform="translate(1180.2,1013) rotate(-90)" text-anchor="middle">117.5</text>
<line class="m" x1="1054.8" y1="1008.3" x2="1054.8" y2="1069.3"/><text class="t" transform="translate(1052,1038) rotate(-90)" text-anchor="middle">60</text>
<line class="m" x1="1065.2" y1="1085" x2="1126" y2="1085"/><text class="t" x="1095.6" y="1083.3" text-anchor="middle">60</text>
<path class="e" d="M1075,993.5H1093M1075,993.5L1070,1023"/><text class="t" x="1075" y="991.7">4-M4</text>
<path class="e" d="M1108,993.5H1124M1108,993.5L1082,1087"/><text class="t" x="1108" y="991.7">Φ70</text>

<!-- middle -->
<path class="e" d="M1246.4,892V911.7M1289,892V925M1261.8,907V925M1274.4,907V925"/>
<line class="m" x1="1246.4" y1="895" x2="1289" y2="895"/><text class="t" x="1267.7" y="893" text-anchor="middle">41.5</text>
<line class="m" x1="1246.4" y1="909.3" x2="1274.4" y2="909.3"/><text class="s" x="1250" y="907.5">15</text><text class="s" x="1264" y="907.5">11</text>
<g class="k">
<rect x="1246.4" y="911.7" width="15.4" height="136.6"/>
<rect x="1261.8" y="925" width="27.2" height="98"/>
<path d="M1261.8,945H1270V925M1261.8,990H1270V1005"/>
<rect x="1270" y="1023" width="29.3" height="63.7"/>
<rect x="1261.8" y="1015" width="8.2" height="35"/>
<rect x="1299.3" y="1009.3" width="63.4" height="77.4"/>
<rect x="1362.7" y="1024" width="4.3" height="51"/>
<rect x="1300" y="1086.7" width="62.7" height="35"/>
<path d="M1345,1035L1320,1078L1345,1076"/>
</g>
<path class="d" d="M1232,943H1289M1232,1022H1289M1349,1040V1075"/>
<use href="#hx" x="1312.5" y="1038"/><use href="#hx" x="1348.7" y="1038"/><use href="#hx" x="1312.5" y="1073"/><use href="#hx" x="1348.7" y="1073"/>
<use href="#hs" x="1254" y="990"/><use href="#hs" x="1254" y="1002"/>
<path class="e" d="M1206,933.3H1246.4M1206,1048.3H1246.4M1216,945H1246.4M1216,1036.7H1246.4M1224,960H1246.4M1224,1023H1246.4"/>
<line class="m" x1="1208.8" y1="933.3" x2="1208.8" y2="1048.3"/><text class="s" transform="translate(1206.5,990) rotate(-90)" text-anchor="middle">Φ115h7</text>
<line class="m" x1="1219" y1="945" x2="1219" y2="1036.7"/><text class="s" transform="translate(1217,990) rotate(-90)" text-anchor="middle">Φ92H7深3</text>
<line class="m" x1="1226.9" y1="960" x2="1226.9" y2="1023"/><text class="s" transform="translate(1225,990) rotate(-90)" text-anchor="middle">Φ62</text>
<text class="s" transform="translate(1237,992) rotate(-90)" text-anchor="middle">14</text>
<path class="e" d="M1264.5,972.5H1287M1264.5,972.5L1252,990"/><text class="t" x="1264.5" y="970.5">2-M2.5</text>
<path class="e" d="M1299.3,1007V1010M1362.7,1007V1010"/>
<line class="m" x1="1299.3" y1="1010.7" x2="1362.7" y2="1010.7"/><text class="t" x="1331" y="1008.5" text-anchor="middle">61</text>
<line class="c" x1="1289" y1="991.7" x2="1398" y2="991.7"/>
<line class="c" x1="1331" y1="1014" x2="1331" y2="1125"/>
<path class="e" d="M1363,1121.7H1398M1315,1055H1383"/>
<line class="m" x1="1395.8" y1="991.7" x2="1395.8" y2="1121.7"/><text class="t" transform="translate(1393,1057) rotate(-90)" text-anchor="middle">129.4</text>
<line class="m" x1="1381" y1="1055" x2="1381" y2="1121.7"/><text class="t" transform="translate(1378,1088) rotate(-90)" text-anchor="middle">65</text>

<!-- right -->
<g class="k">
<path d="M1433,926.7H1555Q1559.7,926.7 1559.7,931.5V1050Q1559.7,1057.3 1552,1057.3H1540Q1524.4,1060 1524.4,1072V1118Q1524.4,1121.7 1520.5,1121.7H1467.5Q1463.7,1121.7 1463.7,1118V1072Q1463.7,1060 1448,1057.3H1436Q1428.4,1057.3 1428.4,1050V931.5Q1428.4,926.7 1433,926.7Z"/>
<path d="M1463.7,1085H1524.4"/>
<path d="M1478,1057.3Q1482,1070 1494,1070Q1506,1070 1510,1057.3"/>
<circle cx="1494" cy="991.7" r="63"/>
<circle cx="1494" cy="991.7" r="57"/>
<circle cx="1494" cy="991.7" r="46"/>
<circle cx="1494" cy="991.7" r="39"/>
<circle cx="1494" cy="991.7" r="29"/>
</g>
<circle class="b" cx="1494" cy="991.7" r="33"/>
<use href="#hb" x="1438.8" y="935"/><use href="#hb" x="1550.6" y="935"/><use href="#hb" x="1438.8" y="1047.3"/><use href="#hb" x="1550.6" y="1047.3"/>
<use href="#ha" x="1546" y="991.7"/><use href="#ha" x="1520" y="946.7"/><use href="#ha" x="1468" y="946.7"/><use href="#ha" x="1442" y="991.7"/><use href="#ha" x="1468" y="1036.7"/><use href="#ha" x="1520" y="1036.7"/>
<use href="#hc" x="1494" y="939.7"/><use href="#hc" x="1494" y="1043.7"/>
<use href="#hc" x="1435.2" y="945"/><use href="#hc" x="1552.9" y="1036.7"/>
<use href="#hs" x="1487.2" y="1071.7"/><use href="#hs" x="1500.8" y="1071.7"/><use href="#hs" x="1487.2" y="1079"/><use href="#hs" x="1500.8" y="1079"/>
<line class="c" x1="1419" y1="991.7" x2="1560" y2="991.7"/>
<line class="c" x1="1494" y1="915" x2="1494" y2="1130"/>
<path class="e" d="M1428.4,900V926.7M1559.7,900V926.7M1438.8,911V935M1550.6,911V935"/>
<line class="m" x1="1428.4" y1="902.7" x2="1559.7" y2="902.7"/><text class="t" x="1494" y="900.7" text-anchor="middle">130</text>
<line class="m" x1="1438.8" y1="913.3" x2="1550.6" y2="913.3"/><text class="t" x="1494" y="911.5" text-anchor="middle">110</text>
<path class="e" d="M1550,935H1583M1550,1047.3H1583M1559.7,926.7H1604M1559.7,1057.3H1593M1524,1086.7H1604M1502,1071.7H1567M1502,1077H1567M1494,1040H1572"/>
<line class="m" x1="1580" y1="935" x2="1580" y2="1047.3"/><text class="t" transform="translate(1577.2,991) rotate(-90)" text-anchor="middle">110</text>
<line class="m" x1="1590.5" y1="926.7" x2="1590.5" y2="1057.3"/><text class="t" transform="translate(1587.7,991) rotate(-90)" text-anchor="middle">130</text>
<line class="m" x1="1601.3" y1="926.7" x2="1601.3" y2="1086.7"/><text class="t" transform="translate(1598.5,1000) rotate(-90)" text-anchor="middle">159.4</text>
<line class="m" x1="1569" y1="991.7" x2="1569" y2="1040"/><text class="t" transform="translate(1566.3,1016) rotate(-90)" text-anchor="middle">45</text>
<line class="m" x1="1494" y1="1000" x2="1553" y2="1000"/><text class="t" x="1516" y="998">60</text>
<line class="m" x1="1555" y1="1071.7" x2="1555" y2="1077"/><text class="s" transform="translate(1553,1075) rotate(-90)" text-anchor="middle">7</text>
<line class="m" x1="1564" y1="1071.7" x2="1564" y2="1086.7"/><text class="s" transform="translate(1562,1079) rotate(-90)" text-anchor="middle">13</text>
<path class="e" d="M1487.2,1080V1106M1500.8,1080V1106"/>
<line class="m" x1="1487.2" y1="1103" x2="1500.8" y2="1103"/><text class="s" x="1494" y="1101" text-anchor="middle">14</text>
<path class="e" d="M1460,862H1476M1476,862L1438,935"/><text class="t" x="1460" y="860">4-Φ9</text>
<path class="e" d="M1485,872.5H1516M1485,872.5L1468,945"/><text class="t" x="1485" y="870.7">6-M5深10</text>
<path class="e" d="M1517,892H1557M1517,892L1494,940"/><text class="s" x="1517" y="890">2-Φ5 <tspan dy="-3">+0.014</tspan><tspan dy="3"> 深7</tspan></text>
<path class="e" d="M1372,955H1415L1435,945"/><text class="s" x="1372" y="953">2-Φ5 <tspan dy="-3">+0.014</tspan><tspan dy="3"> 深7</tspan></text>
<path class="e" d="M1538,926L1519,968"/><text class="s" x="1499" y="943">Φ114</text>
<path class="e" d="M1504,977L1530,955"/><text class="s" x="1469" y="975">Φ104(PCD)</text>
<path class="e" d="M1420,1064.5H1460L1487,1072"/><text class="s" x="1420" y="1062.5">4-M2.5牙深6</text>
</svg>
</body></html>
